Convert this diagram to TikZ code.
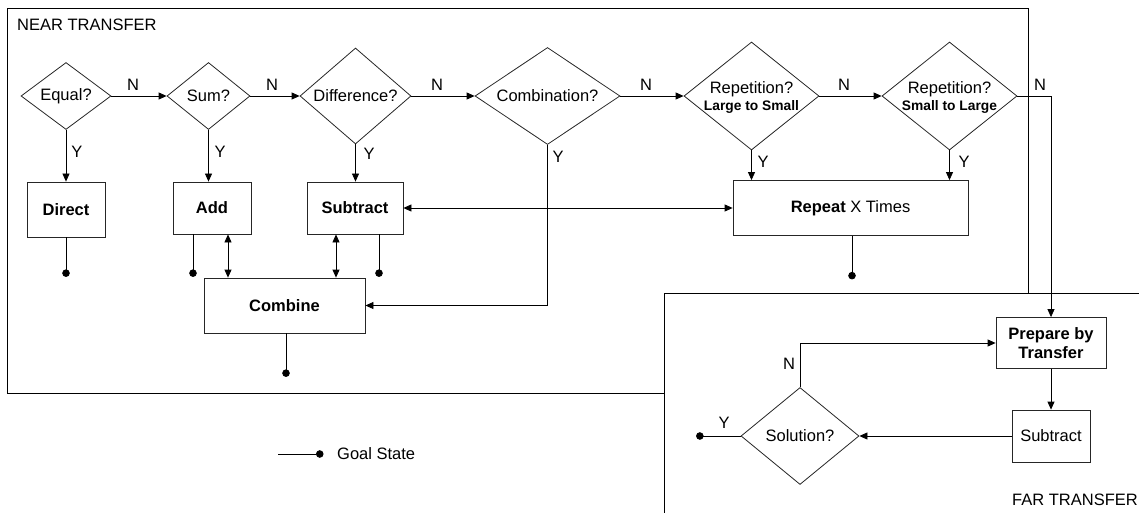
\documentclass[tikz,border=0pt]{standalone}
\usepackage{fontspec}
\setmainfont{Liberation Sans}
\usetikzlibrary{shapes.geometric,arrows.meta}

\tikzset{
  base/.style={font=\fontsize{16.5}{19.5}\selectfont},
  frame/.style={draw=black, line width=1pt},
  dia/.style={diamond, draw=black!85, line width=0.8pt, inner sep=0pt},
  stepbox/.style={rectangle, draw=black!85, line width=0.8pt, inner sep=0pt, base},
  lbl/.style={base, inner sep=0pt},
  conn/.style={line width=0.8pt},
  arr/.style={conn, -{Triangle[length=8pt,width=7pt]}},
  darr/.style={conn, {Triangle[length=8pt,width=7pt]}-{Triangle[length=8pt,width=7pt]}},
  goal/.style={conn, -{Circle[length=7.5pt]}}
}

\begin{document}
\begin{tikzpicture}[x=1pt,y=-1pt]
\useasboundingbox (0,0) rectangle (1139,513);

% the two regions
\draw[frame] (7,9) rectangle (1028,393);
\node[lbl, anchor=west] (neart) at (17,25) {NEAR TRANSFER};
\filldraw[frame, fill=white] (664,293) rectangle (1150,530);
\node[lbl, anchor=east] (fart) at (1138,500) {FAR TRANSFER};

% decisions of the near region
\node[dia, minimum width=90, minimum height=67] (equal) at (66,96) {};
\node[lbl] (equalt) at (equal) {Equal?};
\node[dia, minimum width=83, minimum height=67] (sum) at (208.5,96) {};
\node[lbl] (sumt) at (sum) {Sum?};
\node[dia, minimum width=111, minimum height=96] (diff) at (355.5,96) {};
\node[lbl] (difft) at (diff) {Difference?};
\node[dia, minimum width=145, minimum height=97] (comb) at (547.5,96) {};
\node[lbl] (combt) at (comb) {Combination?};
\node[dia, minimum width=135, minimum height=108] (repa) at (751.5,96) {};
\node[lbl, align=center] (repat) at ([yshift=-1.5pt]repa.center) {Repetition?\\[-2pt]{\fontsize{13.8}{16}\selectfont\bfseries Large to Small}};
\node[dia, minimum width=135, minimum height=108] (repb) at (949.5,96) {};
\node[lbl, align=center] (repbt) at ([yshift=-1.5pt]repb.center) {Repetition?\\[-2pt]{\fontsize{13.8}{16}\selectfont\bfseries Small to Large}};

% actions of the near region
\node[stepbox, minimum width=78, minimum height=55] (direct) at (66,209.5) {\bfseries Direct};
\node[stepbox, minimum width=78, minimum height=52] (add) at (212,208) {\bfseries Add};
\node[stepbox, minimum width=96, minimum height=52] (subtr) at (355,208) {\bfseries Subtract};
\node[stepbox, minimum width=235, minimum height=55] (repeat) at (850.5,208) {{\bfseries Repeat} X Times};
\node[stepbox, minimum width=161, minimum height=55] (combine) at (284.5,305.5) {\bfseries Combine};

% far region
\node[stepbox, minimum width=110, minimum height=51, align=center] (prep) at (1051,343) {\bfseries Prepare by\\\bfseries Transfer};
\node[stepbox, minimum width=78, minimum height=52] (subf) at (1051,436) {Subtract};
\node[dia, minimum width=118, minimum height=97] (sol) at (800,436) {};
\node[lbl] (solt) at (sol) {Solution?};

% "no" chain
\draw[arr] (equal.east) -- (sum.west);
\draw[arr] (sum.east) -- (diff.west);
\draw[arr] (diff.east) -- (comb.west);
\draw[arr] (comb.east) -- (repa.west);
\draw[arr] (repa.east) -- (repb.west);
\draw[arr] (repb.east) -| (prep.north);
\node[lbl] (n1) at (133,85) {N};
\node[lbl] (n2) at (272,85) {N};
\node[lbl] (n3) at (437,85) {N};
\node[lbl] (n4) at (646,85) {N};
\node[lbl] (n5) at (844,85) {N};
\node[lbl] (n6) at (1040,85) {N};

% "yes" branches
\draw[arr] (equal.south) -- (direct.north);
\draw[arr] (sum.south) -- (sum.south |- add.north);
\draw[arr] (diff.south) -- (diff.south |- subtr.north);
\draw[arr] (comb.south) |- (combine.east);
\draw[arr] (repa.south) -- (repa.south |- repeat.north);
\draw[arr] (repb.south) -- (repb.south |- repeat.north);
\node[lbl] (y1) at (77,152) {Y};
\node[lbl] (y2) at (220,152) {Y};
\node[lbl] (y3) at (369,154) {Y};
\node[lbl] (y4) at (558,157) {Y};
\node[lbl] (y5) at (763,162) {Y};
\node[lbl] (y6) at (964,162) {Y};

% links between actions
\draw[darr] (subtr.east) -- (repeat.west);
\draw[darr] ([xshift=16pt]add.south) -- ([xshift=16pt]add.south |- combine.north);
\draw[darr] ([xshift=-19pt]subtr.south) -- ([xshift=-19pt]subtr.south |- combine.north);

% goal states
\draw[goal] (direct.south) -- ++(0,39.5);
\draw[goal] ([xshift=-19pt]add.south) -- ++(0,42.5);
\draw[goal] ([xshift=24pt]subtr.south) -- ++(0,42.5);
\draw[goal] ([xshift=1.5pt]combine.south) -- ++(0,43.5);
\draw[goal] ([xshift=1.5pt]repeat.south) -- ++(0,43.5);

% far loop
\draw[arr] (prep.south) -- (subf.north);
\draw[arr] (subf.west) -- (sol.east);
\draw[arr] (sol.north) |- (prep.west);
\draw[goal] (sol.west) -- ++(-44.5,0);
\node[lbl] (nsol) at (789,364) {N};
\node[lbl] (ysol) at (724,423) {Y};

% legend
\coordinate (lg) at (278,454);
\draw[goal] (lg) -- ++(45.5,0);
\node[lbl, anchor=west] (lgt) at (337,454) {Goal State};
\end{tikzpicture}
\end{document}
